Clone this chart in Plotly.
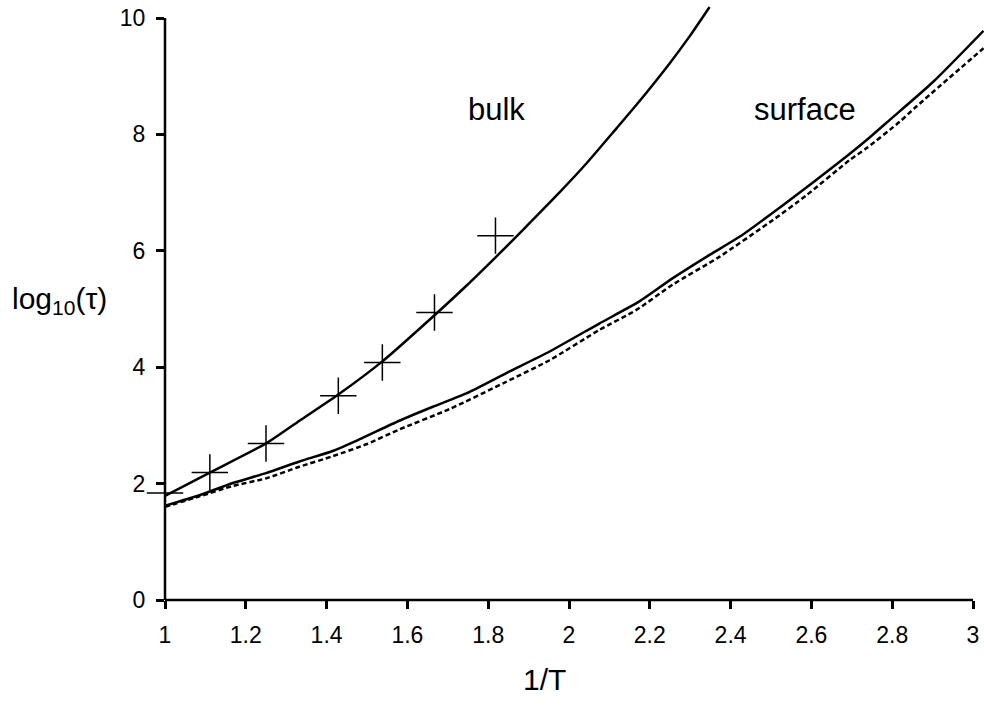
import plotly.graph_objects as go

# ---- data ----
bulk_x = [1.0, 1.111, 1.25, 1.333, 1.429, 1.538, 1.665, 1.746, 1.817, 1.869, 1.91,
          1.976, 2.043, 2.117, 2.166, 2.249, 2.298, 2.348]
bulk_y = [1.79, 2.19, 2.69, 3.08, 3.53, 4.10, 4.88, 5.40, 5.88, 6.24, 6.53,
          7.00, 7.50, 8.10, 8.50, 9.22, 9.68, 10.19]

surf_x = [1.0, 1.085, 1.168, 1.25, 1.333, 1.415, 1.481, 1.58, 1.663, 1.746, 1.845,
          1.952, 2.075, 2.174, 2.257, 2.348, 2.422, 2.546, 2.67, 2.736, 2.794, 2.901, 3.026]
surf_y = [1.62, 1.80, 2.01, 2.18, 2.38, 2.56, 2.76, 3.08, 3.32, 3.55, 3.90,
          4.27, 4.75, 5.13, 5.53, 5.93, 6.24, 6.87, 7.53, 7.90, 8.25, 8.90, 9.78]

dash_x = [1.0, 1.085, 1.168, 1.25, 1.333, 1.415, 1.50, 1.58, 1.704, 1.845, 1.952,
          2.075, 2.166, 2.257, 2.373, 2.505, 2.587, 2.695, 2.736, 2.819, 2.86, 3.026]
dash_y = [1.60, 1.78, 1.96, 2.09, 2.29, 2.47, 2.68, 2.93, 3.28, 3.75, 4.12,
          4.64, 4.98, 5.42, 5.90, 6.53, 6.95, 7.56, 7.76, 8.22, 8.48, 9.48]

cross_x = [1.0, 1.111, 1.25, 1.429, 1.538, 1.667, 1.818]
cross_y = [1.84, 2.19, 2.69, 3.51, 4.08, 4.94, 6.26]

x_ticks = [1, 1.2, 1.4, 1.6, 1.8, 2, 2.2, 2.4, 2.6, 2.8, 3]
x_tick_labels = ["1", "1.2", "1.4", "1.6", "1.8", "2", "2.2", "2.4", "2.6", "2.8", "3"]
y_ticks = [0, 2, 4, 6, 8, 10]
y_tick_labels = ["0", "2", "4", "6", "8", "10"]

FONT = "Arial, Liberation Sans, sans-serif"

fig = go.Figure()
fig.add_trace(go.Scatter(x=bulk_x, y=bulk_y, mode="lines",
                         line=dict(color="black", width=2.5, shape="spline", smoothing=0.6),
                         showlegend=False))
fig.add_trace(go.Scatter(x=surf_x, y=surf_y, mode="lines",
                         line=dict(color="black", width=2.5, shape="spline", smoothing=0.6),
                         showlegend=False))
fig.add_trace(go.Scatter(x=dash_x, y=dash_y, mode="lines",
                         line=dict(color="black", width=2.5, dash="5px,3px",
                                   shape="spline", smoothing=0.6),
                         showlegend=False))
fig.add_trace(go.Scatter(x=cross_x, y=cross_y, mode="markers", cliponaxis=False,
                         marker=dict(symbol="cross-thin", size=26, color="black",
                                     line=dict(color="black", width=1.5)),
                         showlegend=False))

# axis lines limited to the tick span
fig.add_shape(type="line", xref="x", yref="paper", x0=1, x1=3, y0=0, y1=0,
              line=dict(color="black", width=2.5))
fig.add_shape(type="line", xref="paper", yref="y", x0=0, x1=0, y0=0, y1=10,
              line=dict(color="black", width=2.5))

fig.add_annotation(x=1.82, y=8.42, text="bulk", showarrow=False,
                   xanchor="center", yanchor="middle",
                   font=dict(family=FONT, size=31, color="black"))
fig.add_annotation(x=2.585, y=8.42, text="surface", showarrow=False,
                   xanchor="center", yanchor="middle",
                   font=dict(family=FONT, size=31, color="black"))
fig.add_annotation(x=1.94, y=-0.133, yref="paper", text="1/T", showarrow=False,
                   xanchor="center", yanchor="middle",
                   font=dict(family=FONT, size=30, color="black"))
fig.add_annotation(x=-0.129, xref="paper", y=5.15, text="log<sub>10</sub>(τ)",
                   showarrow=False, xanchor="center", yanchor="middle",
                   font=dict(family=FONT, size=30, color="black"))

fig.update_layout(
    width=984, height=708,
    margin=dict(l=165, r=0, t=0, b=108),
    paper_bgcolor="white", plot_bgcolor="white",
    font=dict(family=FONT, color="black"),
    xaxis=dict(range=[1, 1 + (984 - 165) / 404], showgrid=False, zeroline=False,
               showline=False, ticks="outside", ticklen=8, tickwidth=2.5,
               tickcolor="black", tickvals=x_ticks, ticktext=x_tick_labels,
               tickfont=dict(family=FONT, size=23, color="black"),
               ticklabelstandoff=6),
    yaxis=dict(range=[0, 600 / 58.2], showgrid=False, zeroline=False,
               showline=False, ticks="outside", ticklen=8, tickwidth=2.5,
               tickcolor="black", tickvals=y_ticks, ticktext=y_tick_labels,
               tickfont=dict(family=FONT, size=23, color="black"),
               ticklabelstandoff=6),
)

fig.write_html("out.html")
